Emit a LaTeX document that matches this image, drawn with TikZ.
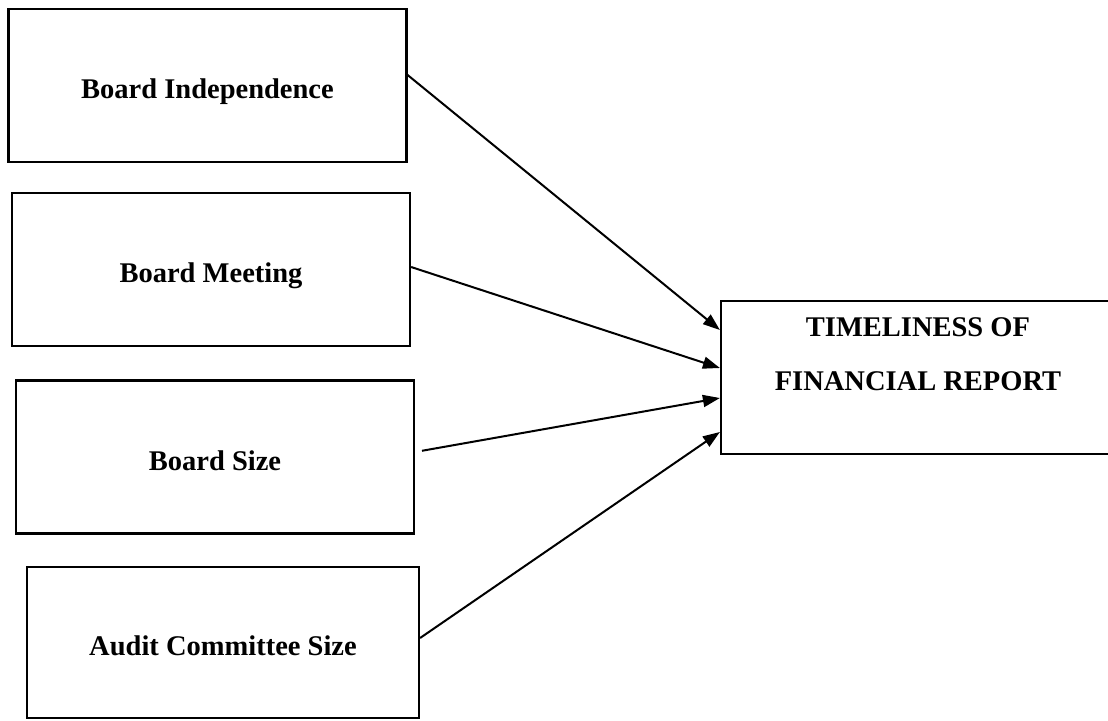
\documentclass[tikz,border=0pt]{standalone}
\usepackage{fontspec}
\setmainfont{Liberation Serif}
\usepackage{tikz}
\usetikzlibrary{arrows.meta, positioning}

\begin{document}
\begin{tikzpicture}[
			x=1pt, y=-1pt,
			every node/.style={font=\fontsize{28.5}{54}\selectfont\bfseries},
			box/.style={
				rectangle, draw, line width=2.2pt,
				text height=26pt, text depth=0pt,
				minimum width=398pt, minimum height=153pt
			},
			arrow/.style={
				-{Triangle[length=17pt,width=12pt]},
				line width=2pt
			}
			]
			\useasboundingbox (0,0) rectangle (1108,720);
			
			\node[box] (indep) at (207.5,85.5) {Board Independence};
			\node[box] (meeting) at (211,269.5) {Board Meeting};
			\node[box] (size) at (215,457) {Board Size};
			\node[box, minimum width=392pt, minimum height=151pt] (audit) at (223,642.5) {Audit Committee Size};
			\node[box, minimum width=394pt] (target) at (918,377.5) {};
			\node[align=center, inner sep=0pt] (targetlabel) at (918,354) {TIMELINESS OF\\FINANCIAL REPORT};
			
			\draw[arrow] (indep.east |- 0,75) -- (target.west |- 0,330);
			\draw[arrow] (meeting.east |- 0,267) -- (target.west |- 0,368);
			\draw[arrow, shorten <=7pt] (size.east |- 0,452) -- (target.west |- 0,398);
			\draw[arrow] (audit.east |- 0,638) -- (target.west |- 0,432);
			
		\end{tikzpicture}
\end{document}
